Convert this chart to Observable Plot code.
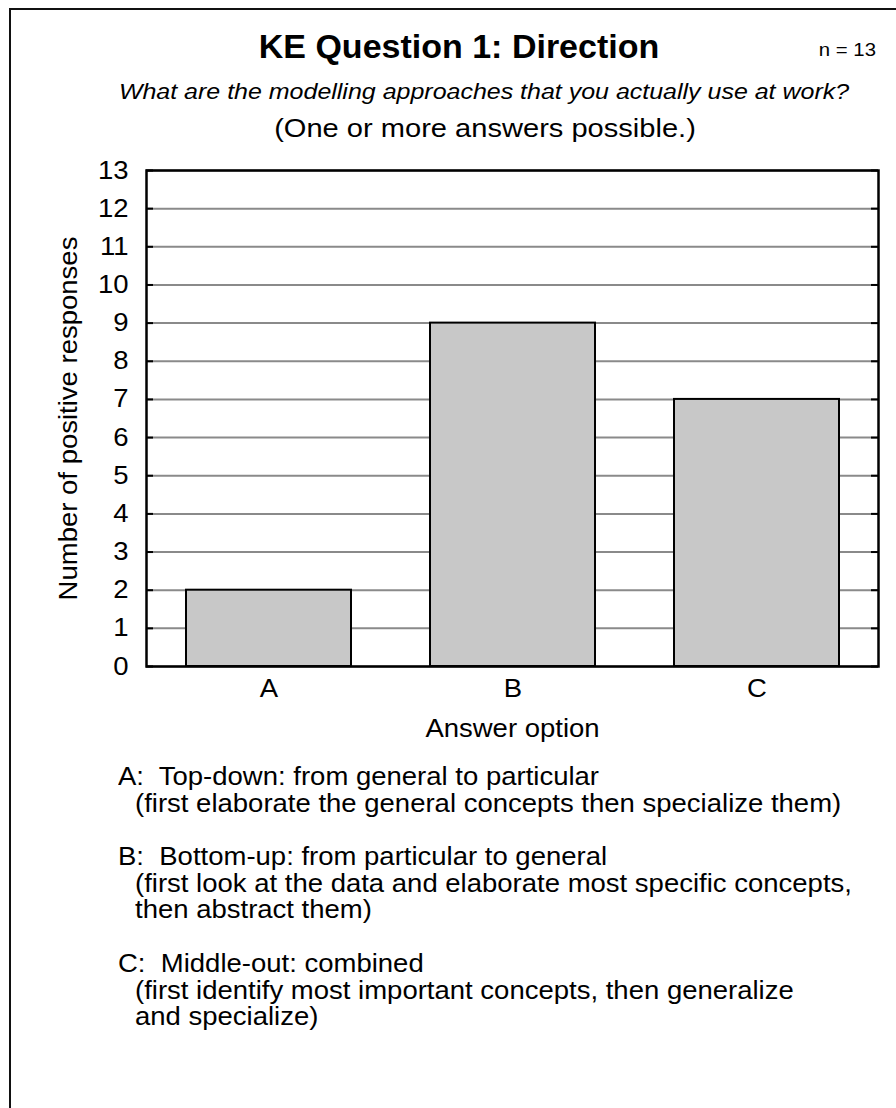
<!DOCTYPE html>
<html>
<head>
<meta charset="utf-8">
<script src="https://cdn.jsdelivr.net/npm/d3@7"></script>
<script src="https://cdn.jsdelivr.net/npm/@observablehq/plot@0.6"></script>
<style>
  html, body { margin: 0; padding: 0; background: #fff; }
  body { width: 896px; height: 1108px; overflow: hidden; position: relative;
         font-family: "Liberation Sans", Arial, Helvetica, sans-serif; color: #000; }
  #frame { position: absolute; left: 9px; top: 8px; width: 2000px; height: 2000px; z-index: 5;
           border-top: 2.5px solid #111; border-left: 2.5px solid #111; pointer-events: none; }
  .t { position: absolute; line-height: 1; white-space: pre; }
  #title { left: 0; width: 918px; text-align: center; top: 29px; font-size: 34px; font-weight: bold; }
  #n { right: 20px; top: 41px; font-size: 18.5px; transform-origin: right center; transform: scaleX(1.1); }
  #sub1 { left: 483.5px; top: 81.1px; font-size: 22.5px; font-style: italic;
          transform-origin: center; transform: translateX(-50%) scaleX(1.11); }
  #sub2 { left: 484.5px; top: 115.6px; font-size: 25.5px;
          transform-origin: center; transform: translateX(-50%) scaleX(1.14); }
  #chart { position: absolute; left: 0; top: 140px; }
  .leg { position: absolute; font-size: 25px; line-height: 1; white-space: pre;
         transform-origin: left center; transform: scaleX(1.1); }
</style>
</head>
<body>
<div id="frame"></div>
<div id="title" class="t"></div>
<div id="n" class="t"></div>
<div id="sub1" class="t"></div>
<div id="sub2" class="t"></div>
<div id="chart"></div>
<div id="legend"></div>
<script>
const titleText = "KE Question 1: Direction";
const nText = "n = 13";
const questionText = "What are the modelling approaches that you actually use at work?";
const noteText = "(One or more answers possible.)";
const categories = ["A", "B", "C"];
const responses = [2, 9, 7];
const yTicks = [0,1,2,3,4,5,6,7,8,9,10,11,12,13];
const yLabel = "Number of positive responses";
const xLabel = "Answer option";
const legendLines = [
  ["A:  Top-down: from general to particular", "(first elaborate the general concepts then specialize them)"],
  ["B:  Bottom-up: from particular to general", "(first look at the data and elaborate most specific concepts,", "then abstract them)"],
  ["C:  Middle-out: combined", "(first identify most important concepts, then generalize", "and specialize)"]
];

document.getElementById("title").textContent = titleText;
document.getElementById("n").textContent = nText;
document.getElementById("sub1").textContent = questionText;
document.getElementById("sub2").textContent = noteText;

const data = categories.map((c, i) => ({answer: c, count: responses[i]}));

const W = 896, H = 610;
const chart = Plot.plot({
  width: W, height: H,
  marginLeft: 146, marginRight: 18, marginTop: 30, marginBottom: 84,
  style: {fontFamily: '"Liberation Sans", Arial, sans-serif', fontSize: "25px", color: "#000", background: "transparent"},
  x: {domain: categories, paddingInner: 0.324, paddingOuter: 0.162, label: null},
  y: {domain: [0, 13], label: null},
  marks: [
    Plot.gridY(yTicks, {stroke: "#8a8a8a", strokeOpacity: 1, strokeWidth: 2}),
    Plot.tickY(yTicks, {y: d => d, stroke: "#000", strokeWidth: 2, insetRight: W - 146 - 18 - 7}),
    Plot.tickY(yTicks, {y: d => d, stroke: "#000", strokeWidth: 2, insetLeft: W - 146 - 18 - 7}),
    Plot.barY(data, {x: "answer", y: "count", fill: "#c8c8c8", stroke: "#000", strokeWidth: 2}),
    Plot.frame({stroke: "#000", strokeWidth: 2.5}),
    Plot.axisY(yTicks, {tickSize: 0, tickPadding: 18, fontSize: 25, label: yLabel, labelAnchor: "center", labelArrow: "none", labelOffset: 87}),
    Plot.axisX({tickSize: 0, tickPadding: 13, fontSize: 25, label: xLabel, labelAnchor: "center", labelArrow: "none", labelOffset: 70})
  ]
});
document.getElementById("chart").appendChild(chart);

// the reference lettering is a little wider than Liberation Sans: widen glyphs slightly
chart.querySelectorAll("text").forEach(t => {
  const len = t.getComputedTextLength();
  if (len > 0) {
    t.setAttribute("textLength", (len * 1.1).toFixed(2));
    t.setAttribute("lengthAdjust", "spacingAndGlyphs");
  }
});

const legend = document.getElementById("legend");
const blockTops = [763.8, 843.8, 950.8];
const lineGap = 26.7;
legendLines.forEach((lines, bi) => {
  lines.forEach((txt, li) => {
    const d = document.createElement("div");
    d.className = "leg";
    d.textContent = txt;
    d.style.left = (li === 0 ? 118 : 135) + "px";
    d.style.top = (blockTops[bi] + li * lineGap) + "px";
    legend.appendChild(d);
  });
});
</script>
</body>
</html>
